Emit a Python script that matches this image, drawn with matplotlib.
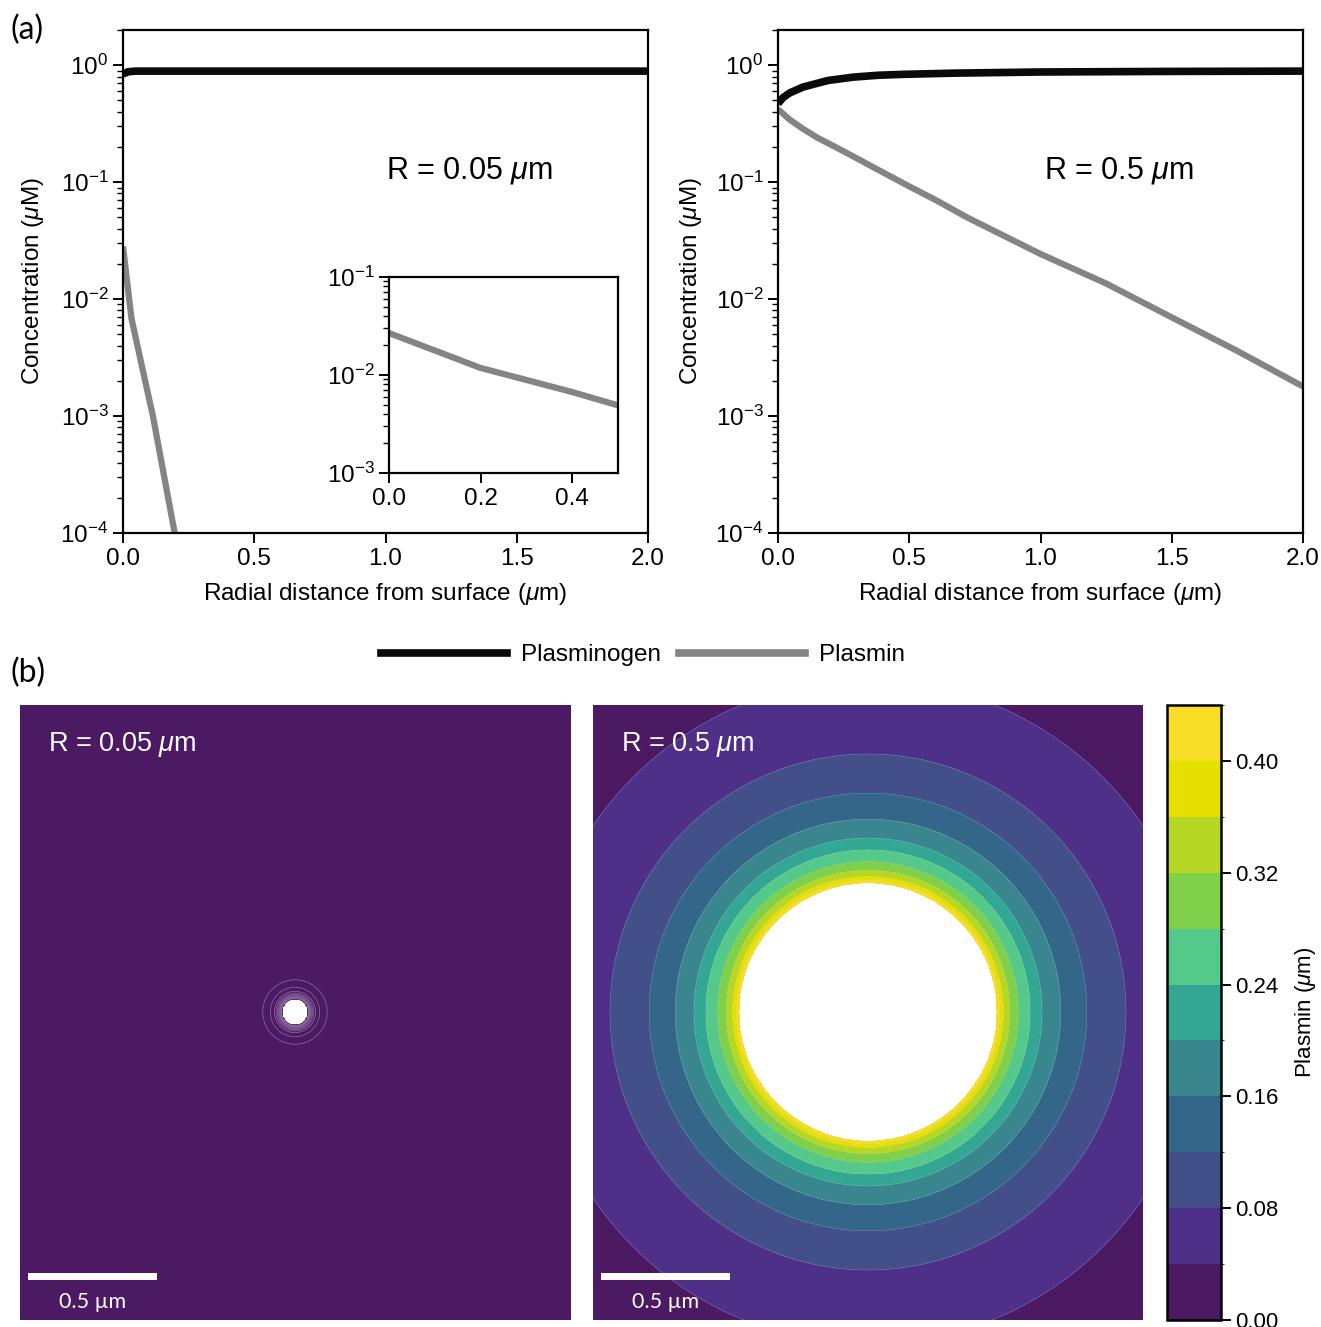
import numpy as np
import matplotlib
matplotlib.use('Agg')
import matplotlib.pyplot as plt
from matplotlib.colors import ListedColormap, BoundaryNorm
from matplotlib.lines import Line2D

plt.rcParams['font.family'] = ['Liberation Sans', 'DejaVu Sans']
plt.rcParams['mathtext.fontset'] = 'custom'
plt.rcParams['mathtext.rm'] = 'Liberation Sans'
plt.rcParams['mathtext.it'] = 'Liberation Sans:italic'
plt.rcParams['axes.linewidth'] = 1.6

# radial distance from surface (um) and concentrations (uM)
# R = 0.05 um
dist_small_pg = [0.0, 0.02, 0.05, 0.2, 1.0, 2.0]
plasminogen_small = [0.84, 0.88, 0.89, 0.89, 0.89, 0.89]
dist_small_pm = [0.0, 0.032, 0.07, 0.114, 0.155, 0.197, 0.25]
plasmin_small = [0.0282, 0.0069, 0.0028, 0.0010, 3.2e-4, 1.0e-4, 2.6e-5]

# inset of the R = 0.05 panel
inset_x = [0.0, 0.2, 0.3, 0.4, 0.5]
inset_plasmin = [0.0268, 0.0118, 0.0089, 0.0067, 0.0049]

# R = 0.5 um
dist_big_pg = [0.0, 0.02, 0.045, 0.095, 0.19, 0.285, 0.38, 0.475, 0.667, 1.0, 1.5, 2.0]
plasminogen_big = [0.47, 0.53, 0.58, 0.65, 0.74, 0.79, 0.82, 0.835, 0.855, 0.875, 0.885, 0.89]
dist_big_pm = [0.0, 0.045, 0.095, 0.15, 0.222, 0.3, 0.35, 0.5, 0.6, 0.72, 1.0,
               1.25, 1.5, 1.75, 2.0]
plasmin_big = [0.42, 0.342, 0.286, 0.24, 0.198, 0.16, 0.139, 0.092, 0.0705, 0.05,
               0.0243, 0.0136, 0.00698, 0.0036, 0.00179]

# plasmin map for R = 0.5 um: ring radii (distance from surface) of the bands
map_dist_big = [0.0, 0.01, 0.024, 0.049, 0.082, 0.128, 0.174, 0.247, 0.348, 0.5,
                0.787, 1.2]
map_plasmin_big = [0.42, 0.40, 0.36, 0.32, 0.28, 0.24, 0.20, 0.16, 0.12, 0.08,
                   0.04, 0.015]

radius_small = 0.05
radius_big = 0.5

# contour band colours (0.00 .. 0.44 in steps of 0.04)
band_colors = ['#4b1a62', '#4e3088', '#424f88', '#34668a', '#39868e', '#33a694',
               '#55c98a', '#7fd04b', '#b6d724', '#e6e000', '#f8dd26']
levels = np.arange(0, 0.4401, 0.04)
cbar_ticks = [0.00, 0.08, 0.16, 0.24, 0.32, 0.40]

black = '#0a0a0a'
gray = '#868383'
fs = 17.5

W, H = 1321, 1327
fig = plt.figure(figsize=(W / 100, H / 100), dpi=100)


def px(left, top, right, bottom):
    return [left / W, 1 - bottom / H, (right - left) / W, (bottom - top) / H]


def style_log_axes(ax):
    ax.set_yscale('log')
    ax.tick_params(which='major', direction='out', length=7, width=1.4, labelsize=fs)
    ax.tick_params(which='minor', direction='out', length=4, width=1.0)


# ---- (a) line plots ----
ax1 = fig.add_axes(px(123, 30, 648, 533))
ax1.plot(dist_small_pg, plasminogen_small, color=black, lw=5.5, solid_capstyle='butt')
ax1.plot(dist_small_pm, plasmin_small, color=gray, lw=4.5, solid_capstyle='butt')
style_log_axes(ax1)
ax1.set_xlim(0, 2.0)
ax1.set_ylim(1e-4, 2.0)
ax1.set_xticks([0, 0.5, 1.0, 1.5, 2.0])
ax1.set_xlabel(r'Radial distance from surface ($\mu$m)', fontsize=fs, labelpad=8)
ax1.set_ylabel(r'Concentration ($\mu$M)', fontsize=fs, labelpad=10)
ax1.text(0.66, 0.72, r'R = 0.05 $\mu$m', transform=ax1.transAxes, fontsize=22,
         ha='center', va='center')

axin = fig.add_axes(px(389, 277, 618, 473))
axin.plot(inset_x, inset_plasmin, color=gray, lw=4.5)
style_log_axes(axin)
axin.set_xlim(0, 0.5)
axin.set_ylim(1e-3, 1e-1)
axin.set_xticks([0, 0.2, 0.4])

ax2 = fig.add_axes(px(778, 30, 1303, 533))
ax2.plot(dist_big_pg, plasminogen_big, color=black, lw=5.5, solid_capstyle='butt')
ax2.plot(dist_big_pm, plasmin_big, color=gray, lw=4.5, solid_capstyle='butt')
style_log_axes(ax2)
ax2.set_xlim(0, 2.0)
ax2.set_ylim(1e-4, 2.0)
ax2.set_xticks([0, 0.5, 1.0, 1.5, 2.0])
ax2.set_xlabel(r'Radial distance from surface ($\mu$m)', fontsize=fs, labelpad=8)
ax2.set_ylabel(r'Concentration ($\mu$M)', fontsize=fs, labelpad=8)
ax2.text(0.65, 0.72, r'R = 0.5 $\mu$m', transform=ax2.transAxes, fontsize=22,
         ha='center', va='center')

handles = [Line2D([], [], color=black, lw=5.5), Line2D([], [], color=gray, lw=5.5)]
fig.legend(handles, ['Plasminogen', 'Plasmin'], loc='center', ncol=2,
           bbox_to_anchor=(643 / W, 1 - 655 / H), frameon=False, fontsize=fs,
           handlelength=5.2, columnspacing=0.7, handletextpad=0.6)

fig.text(10 / W, 1 - 30 / H, '(a)', fontsize=23, family='Lato', va='center')
fig.text(10 / W, 1 - 673 / H, '(b)', fontsize=23, family='Lato', va='center')

# ---- (b) contour maps ----
cmap = ListedColormap(band_colors)
norm = BoundaryNorm(levels, cmap.N)

gx = np.linspace(-1.07, 1.07, 1300)
gy = np.linspace(-1.2, 1.2, 1460)
X, Y = np.meshgrid(gx, gy)
Rg = np.hypot(X, Y)


def radial_field(radius, dist, conc):
    d = Rg - radius
    f = 10 ** np.interp(d, dist, np.log10(conc))
    return np.ma.masked_where(d < 0, f)


def scale_bar(ax, label):
    ax.add_patch(plt.Rectangle((-1.035, -1.039), 0.5, 0.027, color='white', lw=0))
    ax.text(-0.785, -1.125, label, color='white', fontsize=15.5, family='Lato',
            ha='center', va='center')


field_small = radial_field(radius_small, dist_small_pm, plasmin_small)
field_big = radial_field(radius_big, map_dist_big, map_plasmin_big)

ax3 = fig.add_axes(px(20, 705, 571, 1320))
fine_levels = np.arange(0, 0.0301, 0.0025)
ax3.contourf(X, Y, field_small, levels=fine_levels, cmap=cmap, norm=norm)
ax3.contour(X, Y, field_small, levels=fine_levels[1:], colors='#b9a3cc',
            linewidths=0.5, alpha=0.6)
ax3.set_xlim(-1.066, 1.070)
ax3.set_ylim(-1.194, 1.19)
ax3.set_aspect('auto')
ax3.axis('off')
ax3.text(-0.957, 1.035, r'R = 0.05 $\mu$m', color='white', fontsize=19.5, va='center')
scale_bar(ax3, '0.5 µm')

ax4 = fig.add_axes(px(593, 705, 1143, 1320))
cs = ax4.contourf(X, Y, field_big, levels=levels, cmap=cmap, norm=norm)
ax4.contour(X, Y, field_big, levels=levels[1:], colors='#c8c8e0', linewidths=0.3,
            alpha=0.5)
ax4.set_xlim(-1.066, 1.066)
ax4.set_ylim(-1.194, 1.19)
ax4.set_aspect('auto')
ax4.axis('off')
ax4.text(-0.957, 1.035, r'R = 0.5 $\mu$m', color='white', fontsize=19.5, va='center')
scale_bar(ax4, '0.5 µm')

cax = fig.add_axes(px(1167, 705, 1221, 1320))
cbar = fig.colorbar(cs, cax=cax, ticks=cbar_ticks, format='%.2f')
cbar.outline.set_linewidth(1.8)
cbar.ax.tick_params(direction='out', length=7, width=1.4, labelsize=16)
cbar.set_label(r'Plasmin ($\mu$m)', fontsize=16, labelpad=10)

fig.savefig('out.png', dpi=100)
plt.close(fig)
